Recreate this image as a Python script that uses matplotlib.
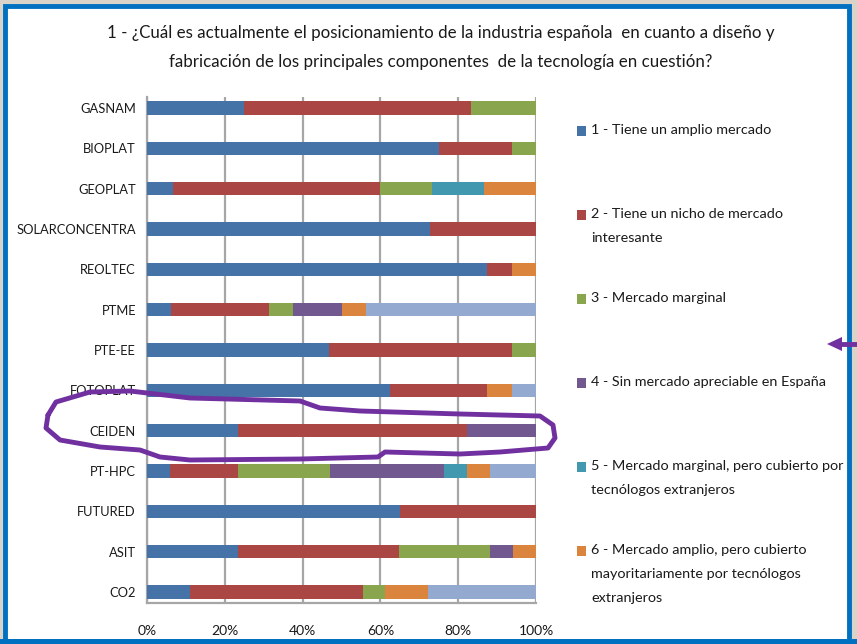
import numpy as np
import matplotlib.pyplot as plt
from matplotlib.patches import Rectangle, PathPatch
from matplotlib.path import Path

plt.rcParams['font.family'] = ['Lato', 'DejaVu Sans']

categories = ['GASNAM', 'BIOPLAT', 'GEOPLAT', 'SOLARCONCENTRA', 'REOLTEC', 'PTME',
              'PTE-EE', 'FOTOPLAT', 'CEIDEN', 'PT-HPC', 'FUTURED', 'ASIT', 'CO2']

# share of answers (%) per category, one list per answer option
s1 = [25.0, 75.0, 6.7, 72.7, 87.5, 6.25, 46.9, 62.5, 23.5, 5.9, 65.0, 23.5, 11.1]
s2 = [58.3, 18.75, 53.3, 27.3, 6.25, 25.0, 46.9, 25.0, 58.8, 17.6, 35.0, 41.2, 44.4]
s3 = [16.7, 6.25, 13.3, 0, 0, 6.25, 6.2, 0, 0, 23.5, 0, 23.5, 5.6]
s4 = [0, 0, 0, 0, 0, 12.5, 0, 0, 17.7, 29.4, 0, 5.9, 0]
s5 = [0, 0, 13.3, 0, 0, 0, 0, 0, 0, 5.9, 0, 0, 0]
s6 = [0, 0, 13.4, 0, 6.25, 6.25, 0, 6.25, 0, 5.9, 0, 5.9, 11.1]
s7 = [0, 0, 0, 0, 0, 43.75, 0, 6.25, 0, 11.8, 0, 0, 27.8]

series = [s1, s2, s3, s4, s5, s6, s7]
labels = ['1 - Tiene un amplio mercado',
          '2 - Tiene un nicho de mercado\ninteresante',
          '3 - Mercado marginal',
          '4 - Sin mercado apreciable en España',
          '5 - Mercado marginal, pero cubierto por\ntecnólogos extranjeros',
          '6 - Mercado amplio, pero cubierto\nmayoritariamente por tecnólogos\nextranjeros',
          '7']
colors = ['#4572A7', '#AA4643', '#89A54E', '#71588F', '#4198AF', '#DB843D', '#93A9CF']

W, H = 857, 644
fig = plt.figure(figsize=(W / 100, H / 100), dpi=100)
fig.patch.set_facecolor('#d9d3ca')

# white panel with blue frame
fig.patches.append(Rectangle((5 / W, -0.01), 844 / W, (H - 6) / H + 0.01, transform=fig.transFigure,
                             facecolor='white', edgecolor='#0070C0', linewidth=3.5, zorder=-2))
fig.patches.append(Rectangle((0, 0), 1, 5 / H, transform=fig.transFigure,
                             facecolor='#0070C0', edgecolor='none', zorder=-1))

ax = fig.add_axes([147 / W, 1 - 603 / H, 389 / W, 506 / H])
ax.set_zorder(1)
ax.set_facecolor('none')

y = np.arange(len(categories))
left = np.zeros(len(categories))
for vals, c in zip(series, colors):
    vals = np.array(vals)
    ax.barh(y, vals, left=left, height=0.33, color=c, zorder=3)
    left += vals

ax.set_xlim(0, 100)
ax.set_ylim(12.27, -0.27)
ax.set_yticks(y)
ax.set_yticklabels(categories, fontsize=9.3, color='#1a1a1a')
ax.set_xticks(np.arange(0, 101, 20))
ax.set_xticklabels([f'{v}%' for v in range(0, 101, 20)], fontsize=10, color='#1a1a1a')
ax.tick_params(axis='both', length=0)
ax.tick_params(axis='y', pad=8)
ax.tick_params(axis='x', pad=16)
ax.grid(axis='x', color='#a6a6a6', linewidth=1.6, zorder=1)
for side in ['top', 'right']:
    ax.spines[side].set_visible(False)
for side in ['left', 'bottom']:
    ax.spines[side].set_color('#a6a6a6')
    ax.spines[side].set_linewidth(1.6)

fig.text(441 / W, 1 - 33 / H, '1 - ¿Cuál es actualmente el posicionamiento de la industria española  en cuanto a diseño y',
         ha='center', va='center', fontsize=12.2, color='#1a1a1a')
fig.text(441 / W, 1 - 62 / H, 'fabricación de los principales componentes  de la tecnología en cuestión?',
         ha='center', va='center', fontsize=12.2, color='#1a1a1a')

# legend (first six entries visible)
for i in range(6):
    ytop = 130 + i * 84
    fig.patches.append(Rectangle((577 / W, 1 - (ytop + 6) / H), 9 / W, 10 / H,
                                 transform=fig.transFigure, facecolor=colors[i], edgecolor='none'))
    fig.text(591 / W, 1 - (ytop - 6) / H, labels[i], ha='left', va='top', fontsize=10.4,
             color='#1a1a1a', linespacing=2.2)

# hand drawn ellipse around CEIDEN
pts = [(48, 415), (56, 402), (90, 392), (130, 391), (190, 398), (300, 401), (320, 408),
       (360, 411), (460, 414), (540, 416), (553, 425), (555, 438), (548, 448), (500, 452),
       (460, 454), (385, 452), (378, 457), (300, 459), (190, 460), (160, 457), (140, 450),
       (100, 447), (60, 440), (46, 428), (48, 415)]
verts = [(px / W, 1 - py / H) for px, py in pts]
fig.patches.append(PathPatch(Path(verts), transform=fig.transFigure, facecolor='none',
                             edgecolor='#7030A0', linewidth=3.5, capstyle='round',
                             joinstyle='round', zorder=5))

fig.patches.append(PathPatch(Path([(857 / W, 1 - 344 / H), (838 / W, 1 - 344 / H)]),
                             transform=fig.transFigure, edgecolor='#7030A0', linewidth=3.5, zorder=5))
fig.patches.append(PathPatch(Path([(827 / W, 1 - 344 / H), (842 / W, 1 - 337 / H),
                                   (842 / W, 1 - 351 / H), (827 / W, 1 - 344 / H)], closed=True),
                             transform=fig.transFigure, facecolor='#7030A0', edgecolor='none', zorder=5))

fig.savefig('out.png', dpi=100)
